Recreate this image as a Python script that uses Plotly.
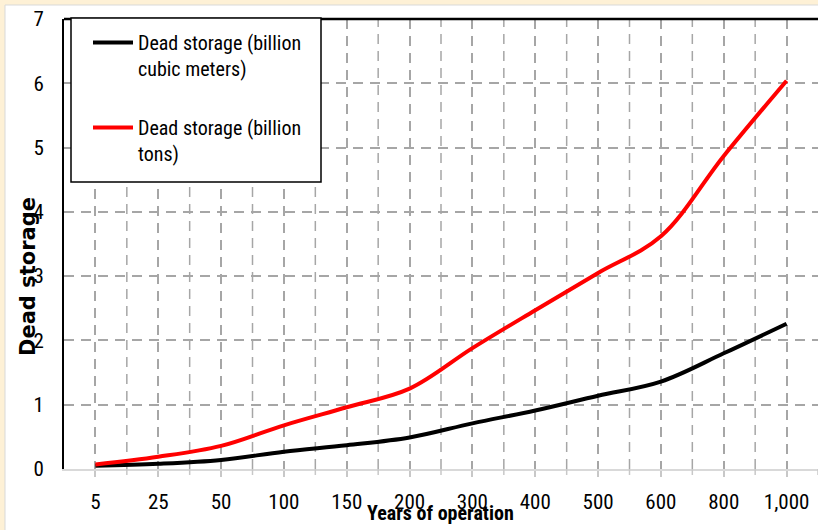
import plotly.graph_objects as go

# ---- data ----
categories = ["5", "25", "50", "100", "150", "200", "300", "400", "500", "600", "800", "1,000"]
dead_storage_bcm = [0.05, 0.08, 0.14, 0.27, 0.37, 0.49, 0.71, 0.91, 1.14, 1.36, 1.80, 2.26]
dead_storage_bt = [0.07, 0.19, 0.36, 0.68, 0.96, 1.25, 1.88, 2.47, 3.05, 3.62, 4.87, 6.04]
y_ticks = [0, 1, 2, 3, 4, 5, 6, 7]
series_names = ["Dead storage (billion<br>cubic meters)", "Dead storage (billion<br>tons)"]

W, H = 818, 530
ML, MR, MT, MB = 64, 0, 19, 61
PW, PH = W - ML - MR, H - MT - MB

def px_x(p):
    return (p - ML) / PW

def px_y(p):
    return (H - MB - p) / PH

NARROW = "Liberation Sans Narrow, Arial Narrow, Roboto Condensed, Roboto, sans-serif"
GRID = "#A6A6A6"

fig = go.Figure()
fig.add_trace(go.Scatter(x=categories, y=dead_storage_bcm, mode="lines", name=series_names[0],
                         line=dict(color="black", width=4, shape="spline"), legendgroup="a"))
fig.add_trace(go.Scatter(x=categories, y=dead_storage_bt, mode="lines", name=series_names[1],
                         line=dict(color="#FF0000", width=4, shape="spline"), legendgroup="b"))

shapes = []
# white chart area over cream page
shapes.append(dict(type="rect", xref="paper", yref="paper", layer="below",
                   x0=px_x(5), x1=px_x(W + 2), y0=px_y(H + 2), y1=px_y(5),
                   fillcolor="white", line=dict(color="#D9D9D9", width=1)))
# gridlines and ticks between categories
n = len(categories)
for i in range(n - 1):
    xb = i + 0.5
    shapes.append(dict(type="line", xref="x", yref="paper", x0=xb, x1=xb, y0=0, y1=1,
                       line=dict(color=GRID, width=1.5, dash="10px,7px"), layer="below"))
for i in range(n):
    xb = i + 0.5
    shapes.append(dict(type="line", xref="x", yref="paper", x0=xb, x1=xb, y0=0, y1=-6 / PH,
                       line=dict(color="#C8C8C8", width=1.5)))
# top border line
shapes.append(dict(type="line", xref="paper", yref="paper", x0=0, x1=1, y0=1, y1=1,
                   line=dict(color="black", width=2.5)))
# legend box
shapes.append(dict(type="rect", xref="paper", yref="paper", layer="above",
                   x0=px_x(71), x1=px_x(321), y0=px_y(182), y1=px_y(18),
                   fillcolor="white", line=dict(color="black", width=1.5)))

fig.update_layout(
    width=W, height=H,
    margin=dict(l=ML, r=MR, t=MT, b=MB),
    paper_bgcolor="#FEF1D6",
    plot_bgcolor="white",
    shapes=shapes,
    showlegend=True,
    legend=dict(x=px_x(88), y=px_y(23), xanchor="left", yanchor="top",
                bgcolor="rgba(0,0,0,0)", borderwidth=0,
                font=dict(family=NARROW, size=20, color="black"),
                valign="top", tracegroupgap=30, itemwidth=40),
    annotations=[
        dict(text="<b>Dead storage</b>", xref="paper", yref="paper",
             x=px_x(28), y=px_y(277), textangle=-90, showarrow=False,
             xanchor="center", yanchor="middle",
             font=dict(family="DejaVu Sans, sans-serif", size=21, color="black")),
        dict(text="<b>Years of operation</b>", xref="paper", yref="paper",
             x=px_x(440), y=px_y(513), showarrow=False,
             xanchor="center", yanchor="middle",
             font=dict(family=NARROW, size=20, color="black")),
    ],
)

fig.update_xaxes(
    type="category", categoryorder="array", categoryarray=categories,
    range=[-0.5, n - 0.5],
    showgrid=True, gridcolor=GRID, gridwidth=1.5, griddash="10px,7px",
    showline=True, linecolor="#D9D9D9", linewidth=2,
    ticks="outside", ticklen=6, tickcolor="#C8C8C8", tickwidth=1.5,
    tickfont=dict(family=NARROW, size=21, color="black"),
    ticklabelstandoff=7,
    zeroline=False,
)
fig.update_yaxes(
    range=[0, 7], tickvals=y_ticks, ticktext=[str(v) for v in y_ticks],
    showgrid=True, gridcolor=GRID, gridwidth=1.5, griddash="10px,7px",
    showline=True, linecolor="black", linewidth=2,
    ticks="", zeroline=False,
    tickfont=dict(family=NARROW, size=21, color="black"),
    ticklabelstandoff=14,
)

fig.write_html("out.html", config={"displayModeBar": False},
               post_script="document.body.style.margin='0';document.body.style.overflow='hidden';")
